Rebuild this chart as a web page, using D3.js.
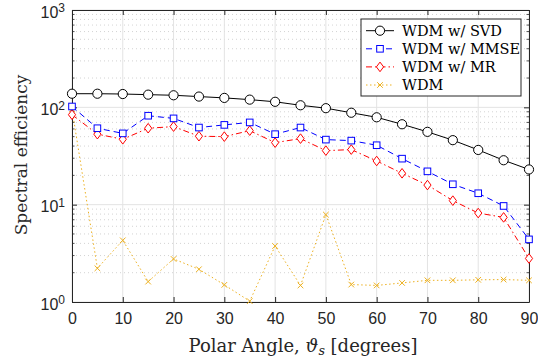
<!DOCTYPE html>
<html>
<head>
<meta charset="utf-8">
<script src="https://cdn.jsdelivr.net/npm/d3@7"></script>
<style>
  body { margin: 0; background: #fff; }
  svg { display: block; }
</style>
</head>
<body>
<div id="chart"></div>
<script>
const angles = [0, 5, 10, 15, 20, 25, 30, 35, 40, 45, 50, 55, 60, 65, 70, 75, 80, 85, 90];
const svdVals  = [138, 138, 137, 135, 133, 129, 125, 120, 114, 105, 98, 88, 79, 67, 56, 46, 36.5, 28.6, 23];
const mmseVals = [102, 61, 54, 82, 77, 62, 66, 70, 53, 62, 46.6, 45.5, 40.8, 29.7, 22, 16.2, 13.1, 9.7, 4.4];
const mrVals   = [84, 53, 47, 61, 63.4, 50.5, 50, 57.6, 43.4, 47.7, 35.9, 36.8, 28.1, 21, 15.9, 11, 8.2, 7.4, 2.8];
const wdmVals  = [96, 2.22, 4.3, 1.62, 2.77, 2.17, 1.5, 1.02, 3.76, 1.48, 7.9, 1.51, 1.48, 1.57, 1.67, 1.67, 1.69, 1.7, 1.67];
const xTicks = [0, 10, 20, 30, 40, 50, 60, 70, 80, 90];
const yTicks = [1, 10, 100, 1000];

const series = [
  {name: 'WDM w/ SVD',  values: svdVals,  color: '#000000', dash: null,    marker: 'circle'},
  {name: 'WDM w/ MMSE', values: mmseVals, color: '#0000ff', dash: '6,4',   marker: 'square'},
  {name: 'WDM w/ MR',   values: mrVals,   color: '#ff0000', dash: '6,3,1.5,3', marker: 'diamond'},
  {name: 'WDM',         values: wdmVals,  color: '#EDB120', dash: '1.5,2.5', marker: 'cross'}
];

const width = 538, height = 360;
const margin = {top: 10, right: 9, bottom: 58, left: 72};
const iw = width - margin.left - margin.right;
const ih = height - margin.top - margin.bottom;

const svg = d3.select('#chart').append('svg')
  .attr('width', width)
  .attr('height', height);

const g = svg.append('g').attr('transform', `translate(${margin.left},${margin.top})`);

const x = d3.scaleLinear().domain([0, 90]).range([0, iw]);
const y = d3.scaleLog().domain([1, 1000]).range([ih, 0]);

// minor grid (dotted)
const minor = [];
for (let d = 1; d < 1000; d *= 10) for (let k = 2; k <= 9; k++) minor.push(d * k);
g.append('g').selectAll('line').data(minor).enter().append('line')
  .attr('x1', 0).attr('x2', iw)
  .attr('y1', d => y(d)).attr('y2', d => y(d))
  .attr('stroke', '#c8c8c8').attr('stroke-width', 0.8)
  .attr('stroke-dasharray', '1,3');

// major grid
g.append('g').selectAll('line').data(xTicks).enter().append('line')
  .attr('x1', d => x(d)).attr('x2', d => x(d))
  .attr('y1', 0).attr('y2', ih)
  .attr('stroke', '#e3e3e3').attr('stroke-width', 1);
g.append('g').selectAll('line').data(yTicks).enter().append('line')
  .attr('x1', 0).attr('x2', iw)
  .attr('y1', d => y(d)).attr('y2', d => y(d))
  .attr('stroke', '#e3e3e3').attr('stroke-width', 1);

// axes
const tickFont = '"Liberation Sans", Arial, sans-serif';
const xAxis = g.append('g').attr('transform', `translate(0,${ih})`)
  .call(d3.axisBottom(x).tickValues(xTicks).tickSize(-5).tickPadding(11).tickSizeOuter(0));
xAxis.selectAll('text').attr('font-family', tickFont).attr('font-size', 16).attr('fill', '#262626');

g.append('g')
  .call(d3.axisTop(x).tickValues(xTicks).tickSize(-5).tickFormat('').tickSizeOuter(0));

const yAxis = g.append('g')
  .call(d3.axisLeft(y).tickValues(yTicks).tickSize(-5).tickPadding(7).tickSizeOuter(0).tickFormat(''));
yAxis.selectAll('.tick').append('text')
  .attr('x', -7).attr('dy', '0.45em')
  .attr('text-anchor', 'end')
  .attr('font-family', tickFont).attr('font-size', 16).attr('fill', '#262626')
  .each(function(d) {
    const t = d3.select(this);
    t.append('tspan').text('10');
    t.append('tspan').attr('dy', '-0.45em').attr('font-size', 12).text(Math.round(Math.log10(d)));
  });

g.append('g').attr('transform', `translate(${iw},0)`)
  .call(d3.axisRight(y).tickValues(yTicks).tickSize(-5).tickFormat('').tickSizeOuter(0));

// minor ticks on y
[0, iw].forEach(px => {
  g.append('g').selectAll('line').data(minor).enter().append('line')
    .attr('x1', px).attr('x2', px === 0 ? 2.5 : iw - 2.5)
    .attr('y1', d => y(d)).attr('y2', d => y(d))
    .attr('stroke', '#262626').attr('stroke-width', 0.8);
});

g.selectAll('.domain').attr('stroke', '#262626');
g.selectAll('.tick line').attr('stroke', '#262626');

// series
function drawMarker(sel, type, color) {
  if (type === 'circle') {
    sel.append('circle').attr('r', 4.6).attr('fill', '#fff').attr('stroke', color).attr('stroke-width', 1);
  } else if (type === 'square') {
    sel.append('rect').attr('x', -3.3).attr('y', -3.3).attr('width', 6.6).attr('height', 6.6)
      .attr('fill', '#fff').attr('stroke', color).attr('stroke-width', 1);
  } else if (type === 'diamond') {
    sel.append('path').attr('d', 'M0,-4.8L3.6,0L0,4.8L-3.6,0Z')
      .attr('fill', '#fff').attr('stroke', color).attr('stroke-width', 1);
  } else {
    sel.append('path').attr('d', 'M-2.8,-2.8L2.8,2.8M-2.8,2.8L2.8,-2.8')
      .attr('fill', 'none').attr('stroke', color).attr('stroke-width', 1);
  }
}

const line = d3.line().x(d => x(d[0])).y(d => y(d[1]));

series.slice().reverse().forEach(s => {
  const pts = angles.map((a, i) => [a, s.values[i]]);
  g.append('path').datum(pts)
    .attr('d', line)
    .attr('fill', 'none')
    .attr('stroke', s.color)
    .attr('stroke-width', 1)
    .attr('stroke-dasharray', s.dash);
  g.append('g').selectAll('g').data(pts).enter().append('g')
    .attr('transform', d => `translate(${x(d[0])},${y(d[1])})`)
    .each(function() { drawMarker(d3.select(this), s.marker, s.color); });
});

// legend
const serif = '"DejaVu Serif", serif';
const lg = svg.append('g').attr('transform', 'translate(361,19)');
lg.append('rect').attr('width', 160).attr('height', 77)
  .attr('fill', '#fff').attr('stroke', '#262626').attr('stroke-width', 1);
series.forEach((s, i) => {
  const row = lg.append('g').attr('transform', `translate(0,${11.7 + i * 18.1})`);
  row.append('line').attr('x1', 5).attr('x2', 33).attr('y1', 0).attr('y2', 0)
    .attr('stroke', s.color).attr('stroke-width', 1).attr('stroke-dasharray', s.dash);
  const m = row.append('g').attr('transform', 'translate(19,0)');
  drawMarker(m, s.marker, s.color);
  row.append('text').attr('x', 41).attr('y', 5.2)
    .attr('font-family', serif).attr('font-size', 14.5).attr('fill', '#000')
    .text(s.name);
});

// axis labels
svg.append('text')
  .attr('transform', `translate(27,155) rotate(-90)`)
  .attr('text-anchor', 'middle')
  .attr('font-family', serif).attr('font-size', 17).attr('fill', '#262626')
  .text('Spectral efficiency');

const xl = svg.append('text')
  .attr('x', 303).attr('y', 352)
  .attr('text-anchor', 'middle')
  .attr('font-family', serif).attr('font-size', 18).attr('fill', '#262626');
xl.append('tspan').text('Polar Angle, ');
xl.append('tspan').attr('font-style', 'italic').text('\u03D1');
xl.append('tspan').attr('font-style', 'italic').attr('font-size', '0.7em').attr('dy', 3).text('s');
xl.append('tspan').attr('dy', -3).text(' [degrees]');
</script>
</body>
</html>
